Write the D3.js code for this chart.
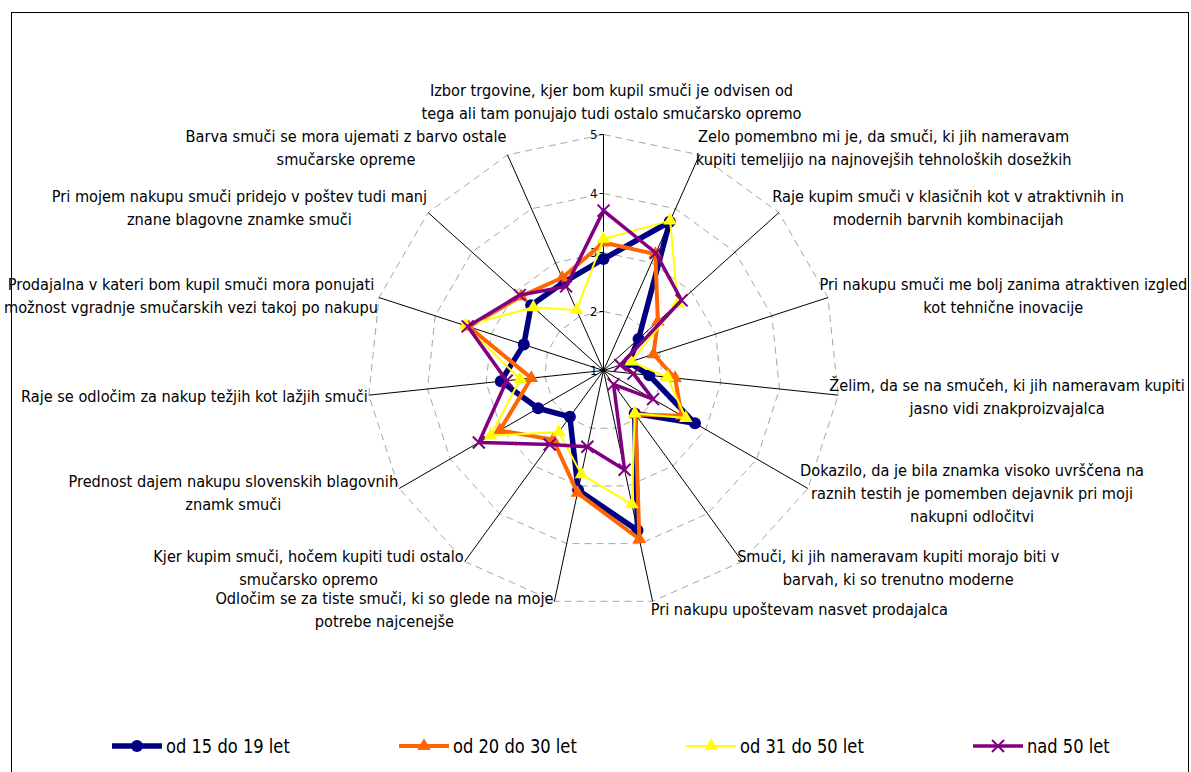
<!DOCTYPE html>
<html>
<head>
<meta charset="utf-8">
<script src="https://cdn.jsdelivr.net/npm/d3@7"></script>
<style>
body { margin: 0; background: #fff; }
svg { display: block; font-family: "DejaVu Sans Condensed", "DejaVu Sans", sans-serif; }
</style>
</head>
<body>
<svg id="chart" width="1191" height="772"></svg>
<script>
// axis labels, clockwise from the top, already broken into lines
var categories = [
    ["Izbor trgovine, kjer bom kupil smuči je odvisen od", "tega ali tam ponujajo tudi ostalo smučarsko opremo"],
    ["Zelo pomembno mi je, da smuči, ki jih nameravam", "kupiti temeljijo na najnovejših tehnoloških dosežkih"],
    ["Raje kupim smuči v klasičnih kot v atraktivnih in", "modernih barvnih kombinacijah"],
    ["Pri nakupu smuči me bolj zanima atraktiven izgled", "kot tehnične inovacije"],
    ["Želim, da se na smučeh, ki jih nameravam kupiti", "jasno vidi znakproizvajalca"],
    ["Dokazilo, da je bila znamka visoko uvrščena na", "raznih testih je pomemben dejavnik pri moji", "nakupni odločitvi"],
    ["Smuči, ki jih nameravam kupiti morajo biti v", "barvah, ki so trenutno moderne"],
    ["Pri nakupu upoštevam nasvet prodajalca"],
    ["Odločim se za tiste smuči, ki so glede na moje", "potrebe najcenejše"],
    ["Kjer kupim smuči, hočem kupiti tudi ostalo", "smučarsko opremo"],
    ["Prednost dajem nakupu slovenskih blagovnih", "znamk smuči"],
    ["Raje se odločim za nakup težjih kot lažjih smuči"],
    ["Prodajalna v kateri bom kupil smuči mora ponujati", "možnost vgradnje smučarskih vezi takoj po nakupu"],
    ["Pri mojem nakupu smuči pridejo v poštev tudi manj", "znane blagovne znamke smuči"],
    ["Barva smuči se mora ujemati z barvo ostale", "smučarske opreme"]
];

var seriesNames = ["od 15 do 19 let", "od 20 do 30 let", "od 31 do 50 let", "nad 50 let"];

var age15to19 = [2.89, 3.76, 1.80, 1.45, 1.78, 2.79, 1.90, 3.77, 3.07, 1.97, 2.28, 2.75, 2.42, 2.65, 2.64];
var age20to30 = [3.17, 3.16, 2.24, 1.89, 2.22, 2.53, 1.92, 3.92, 3.12, 2.45, 3.03, 2.23, 3.40, 2.88, 2.72];
var age31to50 = [3.23, 3.78, 2.69, 1.49, 2.09, 2.61, 1.90, 3.32, 2.80, 2.29, 3.21, 2.42, 3.46, 2.60, 2.12];
var over50    = [3.71, 3.18, 2.78, 1.30, 1.51, 1.97, 1.29, 2.72, 2.32, 2.55, 3.44, 2.65, 3.42, 2.91, 2.56];

var tickValues = [1, 2, 3, 4, 5];

var seriesValues = [age15to19, age20to30, age31to50, over50];
var seriesStyle = [
    {color: "#000080", width: 5.5, marker: "circle"},
    {color: "#ff6600", width: 4,   marker: "triangle"},
    {color: "#ffff00", width: 2,   marker: "triangle"},
    {color: "#800080", width: 3.5, marker: "x"}
];

var svg = d3.select("#chart");
var cx = 603.5, cy = 370.5, R = 236;
var n = categories.length;
var step = 2 * Math.PI / n;
var lh = 23;

var r = d3.scaleLinear().domain([1, 5]).range([0, R]);

// chart area border
svg.append("rect")
    .attr("x", 11.5).attr("y", 12.5)
    .attr("width", 1177).attr("height", 800)
    .attr("fill", "none").attr("stroke", "#000");

var plot = svg.append("g").attr("transform", "translate(" + cx + "," + cy + ")");

// dashed grid polygons
var gridLine = d3.lineRadial()
    .angle(function (d, i) { return i * step; })
    .curve(d3.curveLinearClosed);

tickValues.slice(1).forEach(function (v) {
    plot.append("path")
        .attr("d", gridLine.radius(r(v))(d3.range(n)))
        .attr("fill", "none")
        .attr("stroke", "#a6a6a6")
        .attr("stroke-width", 1)
        .attr("stroke-dasharray", "7,5");
});

// spokes
plot.selectAll("line.spoke")
    .data(d3.range(n))
    .enter()
    .append("line")
    .attr("class", "spoke")
    .attr("x1", 0).attr("y1", 0)
    .attr("x2", function (i) { return r(5) * Math.sin(i * step); })
    .attr("y2", function (i) { return -r(5) * Math.cos(i * step); })
    .attr("stroke", "#000")
    .attr("stroke-width", 1);

// value ticks on the top spoke
plot.selectAll("line.tick")
    .data(tickValues)
    .enter()
    .append("line")
    .attr("x1", -4).attr("x2", 0)
    .attr("y1", function (d) { return -r(d); })
    .attr("y2", function (d) { return -r(d); })
    .attr("stroke", "#000");

plot.selectAll("text.tick")
    .data(tickValues)
    .enter()
    .append("text")
    .attr("x", -6)
    .attr("y", function (d) { return -r(d) + 4.5; })
    .attr("text-anchor", "end")
    .style("font-size", "13px")
    .text(function (d) { return d; });

// axis labels
categories.forEach(function (lines, i) {
    var a = i * step, s = Math.sin(a), c = Math.cos(a);
    var ex = cx + R * s, ey = cy - R * c;
    var g = svg.append("g");
    var t = g.append("text")
        .attr("text-anchor", "middle")
        .style("font-size", "16.2px")
        .attr("fill", "#000");
    lines.forEach(function (l, k) {
        t.append("tspan").attr("x", 0).attr("y", k * lh).text(l);
    });
    var w = t.node().getBBox().width;
    var nl = lines.length;
    var xc, yc;
    if (Math.abs(s) < 0.1) {
        xc = ex + 8;
        yc = ey - 10 - nl * lh / 2;
    } else if (s > 0) {
        xc = ex - 9 * s + w / 2;
        yc = ey - 8 * c;
    } else {
        xc = ex - 1 - w / 2;
        yc = ey - 8 * c;
    }
    g.attr("transform", "translate(" + xc + "," + (yc - (nl - 1) * lh / 2 + 6) + ")");
});

function drawMarker(sel, style) {
    if (style.marker === "circle") {
        sel.append("circle").attr("r", 6).attr("fill", style.color);
    } else if (style.marker === "triangle") {
        sel.append("path")
            .attr("d", d3.symbol().type(d3.symbolTriangle).size(80)())
            .attr("fill", style.color);
    } else {
        sel.append("path")
            .attr("d", "M-6,-6L6,6M-6,6L6,-6")
            .attr("stroke", style.color)
            .attr("stroke-width", 2)
            .attr("fill", "none");
    }
}

// series
var seriesLine = d3.lineRadial()
    .angle(function (d, i) { return i * step; })
    .radius(function (d) { return r(d); })
    .curve(d3.curveLinearClosed);

seriesValues.forEach(function (vals, si) {
    var st = seriesStyle[si];
    var g = plot.append("g");
    g.append("path")
        .datum(vals)
        .attr("d", seriesLine)
        .attr("fill", "none")
        .attr("stroke", st.color)
        .attr("stroke-width", st.width)
        .attr("stroke-linejoin", "round");
    g.selectAll("g.mk")
        .data(vals)
        .enter()
        .append("g")
        .attr("class", "mk")
        .attr("transform", function (d, i) {
            return "translate(" + (r(d) * Math.sin(i * step)) + "," + (-r(d) * Math.cos(i * step)) + ")";
        })
        .each(function () { drawMarker(d3.select(this), st); });
});

// legend
var legend = svg.append("g").attr("transform", "translate(112,746)");
seriesNames.forEach(function (name, si) {
    var st = seriesStyle[si];
    var item = legend.append("g").attr("transform", "translate(" + (si * 287) + ",0)");
    item.append("line")
        .attr("x1", 0).attr("x2", 50)
        .attr("stroke", st.color)
        .attr("stroke-width", st.width);
    drawMarker(item.append("g").attr("transform", "translate(25,0)"), st);
    item.append("text")
        .attr("transform", "translate(54,7) scale(0.93,1)")
        .style("font-size", "19.5px")
        .text(name);
});
</script>
</body>
</html>
